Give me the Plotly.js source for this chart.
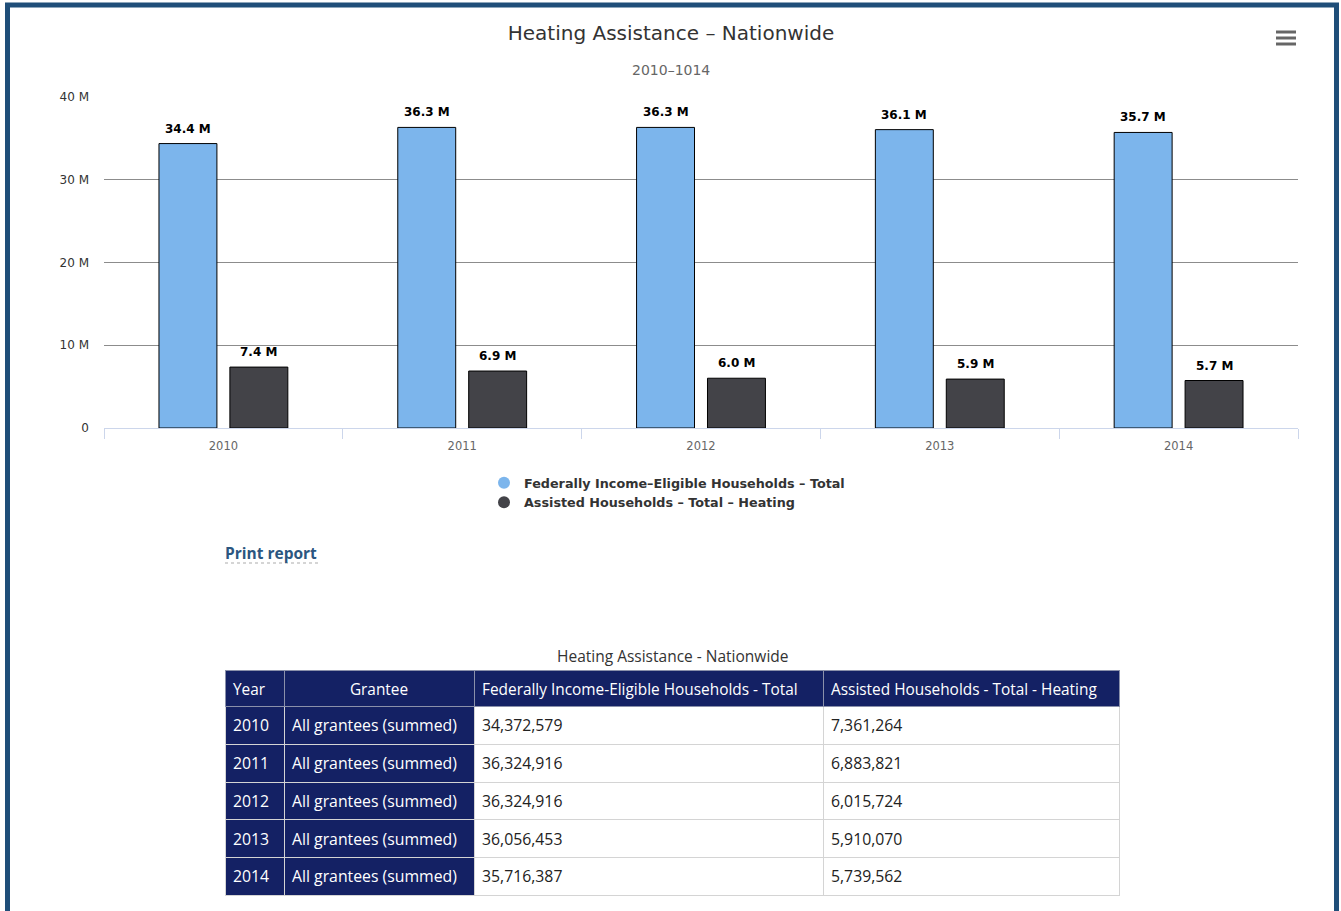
<!DOCTYPE html>
<html>
<head>
<meta charset="utf-8">
<script src="https://cdn.plot.ly/plotly-3.0.1.min.js"></script>
<style>
  html, body { margin: 0; padding: 0; background: #fff; }
  #chart { width: 1341px; height: 911px; }
</style>
</head>
<body>
<div id="chart"></div>
<script>
// ---- Data ----
const years = ['2010', '2011', '2012', '2013', '2014'];
const eligibleTotal = [34372579, 36324916, 36324916, 36056453, 35716387];
const assistedHeating = [7361264, 6883821, 6015724, 5910070, 5739562];
const seriesNames = ['Federally Income\u2013Eligible Households \u2013 Total', 'Assisted Households \u2013 Total \u2013 Heating'];
const tableHeaders = ['Year', 'Grantee', 'Federally Income-Eligible Households - Total', 'Assisted Households - Total - Heating'];
const grantees = ['All grantees (summed)', 'All grantees (summed)', 'All grantees (summed)', 'All grantees (summed)', 'All grantees (summed)'];
const yTickVals = [0, 10e6, 20e6, 30e6, 40e6];
const yTickText = ['0', '10 M', '20 M', '30 M', '40 M'];

// ---- Layout helpers ----
const W = 1341, H = 911;
const px = x => x / W;
const py = y => 1 - y / H;
const BLUE = '#7cb5ec', DARK = '#434348', NAVY = '#142164';
const CHART_FONT = 'DejaVu Sans, Verdana, sans-serif';
const PAGE_FONT = 'Open Sans, Noto Sans, sans-serif';

const fmtM = v => (v / 1e6).toFixed(1) + ' M';
const fmtN = v => v.toLocaleString('en-US');

const TABLE_TOP = 670, TEXT_SHIFT = 5;
const HEADER_H = 36.6, CELL_H = 37.7;
const colWidths = [59, 190, 349, 296];
const tableX = [px(225), px(1119)];
const navyCol = years.map(() => NAVY);
const whiteCol = years.map(() => '#ffffff');
const clearCol = years.map(() => 'rgba(255,255,255,0)');
const blank = years.map(() => '');

const traces = [
  {
    type: 'bar', x: years, y: eligibleTotal, name: seriesNames[0],
    marker: { color: BLUE, line: { color: '#000', width: 1 } },
    showlegend: false, hoverinfo: 'x+y'
  },
  {
    type: 'bar', x: years, y: assistedHeating, name: seriesNames[1],
    marker: { color: DARK, line: { color: '#000', width: 1 } },
    showlegend: false, hoverinfo: 'x+y'
  },
  // legend entries with round symbols
  {
    type: 'scatter', mode: 'markers', x: [years[0]], y: [null], name: seriesNames[0],
    marker: { color: BLUE, size: 12, symbol: 'circle' }, hoverinfo: 'skip'
  },
  {
    type: 'scatter', mode: 'markers', x: [years[0]], y: [null], name: seriesNames[1],
    marker: { color: DARK, size: 12, symbol: 'circle' }, hoverinfo: 'skip'
  },
  // data table: grid and fills
  {
    type: 'table',
    domain: { x: tableX, y: [0, py(TABLE_TOP)] },
    columnwidth: colWidths,
    header: {
      values: tableHeaders.map(() => ''),
      fill: { color: NAVY },
      line: { color: '#8a90aa', width: 1 },
      font: { family: PAGE_FONT, size: 15, color: '#ffffff' },
      height: HEADER_H
    },
    cells: {
      values: [blank, blank, blank, blank],
      fill: { color: [navyCol, navyCol, whiteCol, whiteCol] },
      line: { color: '#d4d4d4', width: 1 },
      font: { family: PAGE_FONT, size: 15, color: '#222' },
      height: CELL_H
    }
  },
  // data table: texts (same grid, nudged down to centre the text vertically)
  {
    type: 'table',
    domain: { x: tableX, y: [0, py(TABLE_TOP + TEXT_SHIFT)] },
    columnwidth: colWidths,
    header: {
      values: tableHeaders,
      align: ['left', 'center', 'left', 'left'],
      fill: { color: 'rgba(255,255,255,0)' },
      line: { color: 'rgba(255,255,255,0)', width: 1 },
      font: { family: PAGE_FONT, size: 15.4, color: '#ffffff' },
      height: HEADER_H
    },
    cells: {
      values: [years, grantees, eligibleTotal.map(fmtN), assistedHeating.map(fmtN)],
      align: 'left',
      fill: { color: [clearCol, clearCol, clearCol, clearCol] },
      line: { color: 'rgba(255,255,255,0)', width: 1 },
      font: { family: PAGE_FONT, size: 15.8, color: ['#ffffff', '#ffffff', '#222222', '#222222'] },
      height: CELL_H
    }
  }
];

// data labels above bars
const annotations = [];
[eligibleTotal, assistedHeating].forEach((series, si) => {
  series.forEach((v, i) => {
    annotations.push({
      x: i, y: v, xref: 'x', yref: 'y',
      xshift: si === 0 ? -35.5 : 35.5, yshift: 6,
      yanchor: 'bottom', xanchor: 'center', showarrow: false,
      text: '<b>' + fmtM(v) + '</b>',
      font: { family: CHART_FONT, size: 12, color: '#000000' }
    });
  });
});
// subtitle
annotations.push({
  xref: 'paper', yref: 'paper', x: px(671), y: py(70), xanchor: 'center', yanchor: 'middle',
  showarrow: false, text: '2010\u20131014',
  font: { family: CHART_FONT, size: 14, color: '#666666' }
});
// print report link
annotations.push({
  xref: 'paper', yref: 'paper', x: px(223), y: py(553), xanchor: 'left', yanchor: 'middle',
  showarrow: false, text: '<b>Print report</b>',
  font: { family: PAGE_FONT, size: 15.5, color: '#2b5680' }
});
// table caption
annotations.push({
  xref: 'paper', yref: 'paper', x: px(672), y: py(656), xanchor: 'center', yanchor: 'middle',
  showarrow: false, text: 'Heating Assistance - Nationwide',
  font: { family: PAGE_FONT, size: 15.5, color: '#333333' }
});

const shapes = [
  // page border
  {
    type: 'rect', xref: 'paper', yref: 'paper',
    x0: px(7.5), x1: px(1336.5), y0: py(960), y1: py(5),
    line: { color: '#1f4e79', width: 5 }, fillcolor: 'rgba(0,0,0,0)', layer: 'above'
  },
  // dotted underline of Print report
  {
    type: 'line', xref: 'paper', yref: 'paper',
    x0: px(225), x1: px(318), y0: py(563), y1: py(563),
    line: { color: '#c8c8c8', width: 1.5, dash: 'dot' }
  }
];
// hamburger menu icon
[32, 38, 44].forEach(yy => shapes.push({
  type: 'line', xref: 'paper', yref: 'paper',
  x0: px(1276), x1: px(1296), y0: py(yy), y1: py(yy),
  line: { color: '#666666', width: 3 }
}));

const layout = {
  width: W, height: H,
  margin: { l: 0, r: 0, t: 0, b: 0, pad: 0 },
  paper_bgcolor: '#ffffff', plot_bgcolor: '#ffffff',
  font: { family: CHART_FONT, color: '#333333' },
  title: {
    text: 'Heating Assistance \u2013 Nationwide',
    x: px(671), xanchor: 'center', xref: 'paper',
    y: py(33), yanchor: 'middle', yref: 'container',
    font: { family: CHART_FONT, size: 20, color: '#333333' }
  },
  barmode: 'group', bargap: 0.406, bargroupgap: 0.183,
  xaxis: {
    type: 'category', domain: [px(104), px(1298)],
    range: [-0.5, years.length - 0.5], autorange: false,
    showline: true, linecolor: '#ccd6eb', linewidth: 1,
    ticks: 'outside', tickson: 'boundaries', ticklen: 10, tickcolor: '#ccd6eb',
    tickangle: 0, ticklabelstandoff: 7,
    showgrid: false, zeroline: false,
    tickfont: { family: CHART_FONT, size: 11.5, color: '#666666' }
  },
  yaxis: {
    domain: [py(428), py(97)], range: [0, 40e6], autorange: false,
    tickvals: yTickVals, ticktext: yTickText,
    showgrid: true, gridcolor: '#8c8c8c', gridwidth: 1,
    zeroline: false, showline: false, ticks: '', ticklabelstandoff: 14,
    tickfont: { family: CHART_FONT, size: 12, color: '#333333' }
  },
  showlegend: true,
  legend: {
    x: px(484), y: py(468), xanchor: 'left', yanchor: 'top',
    orientation: 'v', bgcolor: 'rgba(0,0,0,0)', tracegroupgap: 0,
    font: { family: CHART_FONT, size: 12.75, color: '#333333', weight: 'bold' }
  },
  annotations: annotations,
  shapes: shapes
};

Plotly.newPlot('chart', traces, layout, { displayModeBar: false });
</script>
</body>
</html>
